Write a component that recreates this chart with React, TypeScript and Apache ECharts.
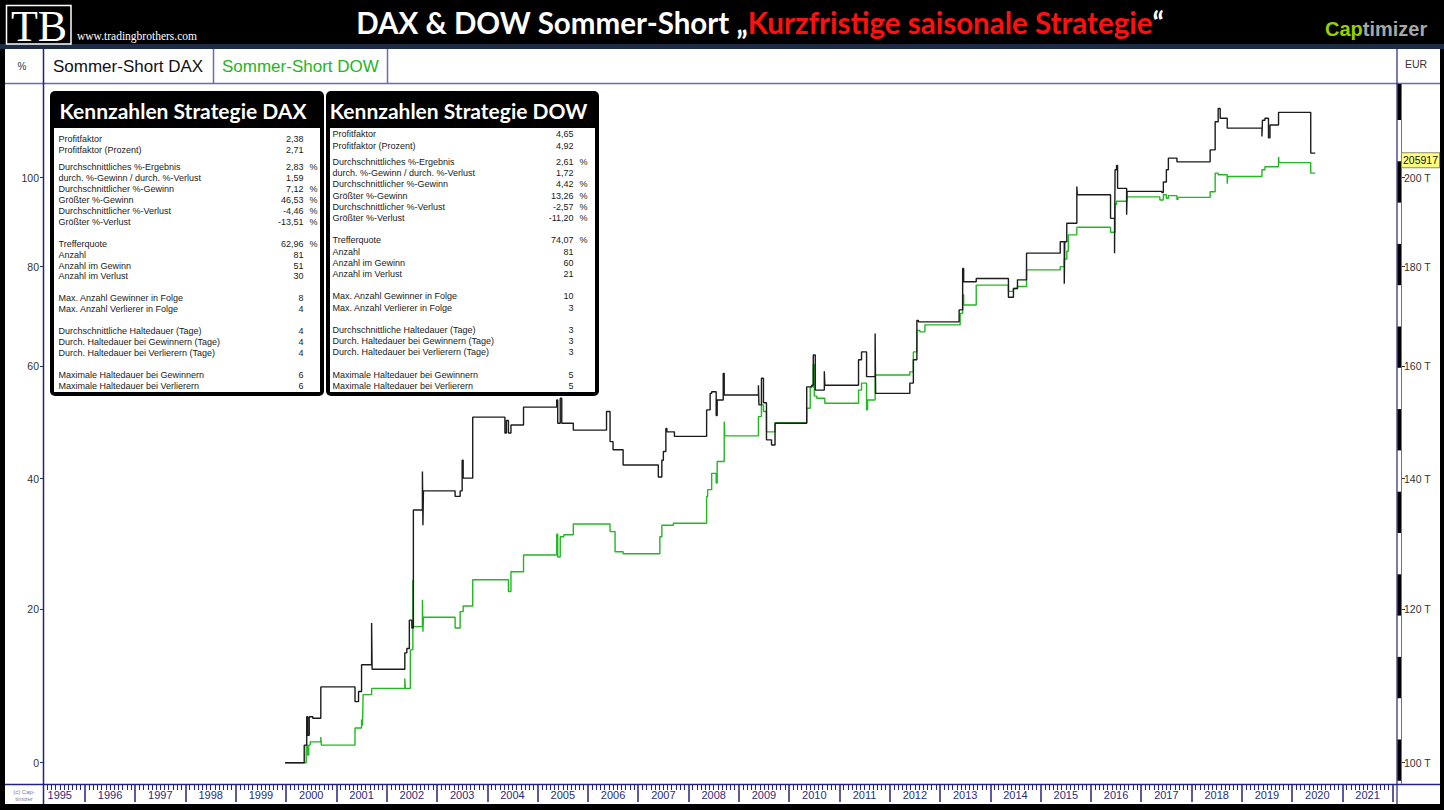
import { useEffect, useRef } from "react";
import * as echarts from "echarts";

// ---------- DATA ----------
// DAX strategy equity (thousand EUR), step points (decimal year, new value)
const daxDates = [
  1999.98, 2000.36, 2000.41, 2000.43, 2000.46, 2000.53, 2000.69, 2001.37, 2001.44, 2001.5,
  2001.7, 2001.71, 2002.36, 2002.4, 2002.45, 2002.5, 2002.53, 2002.71, 2002.72, 2002.73,
  2003.36, 2003.46, 2003.5, 2003.52, 2003.71, 2004.35, 2004.38, 2004.42, 2004.47, 2004.72,
  2005.38, 2005.4, 2005.45, 2005.48, 2005.71, 2006.37, 2006.44, 2006.5, 2006.7, 2007.4,
  2007.47, 2007.5, 2007.55, 2007.57, 2007.72, 2008.36, 2008.43, 2008.46, 2008.55, 2008.57,
  2008.69, 2008.71, 2009.39, 2009.4, 2009.45, 2009.49, 2009.55, 2009.65, 2009.72, 2010.35,
  2010.45, 2010.48, 2010.52, 2010.7, 2010.71, 2011.38, 2011.44, 2011.54, 2011.71, 2011.72,
  2012.4, 2012.47, 2012.54, 2012.57, 2013.38, 2013.45, 2013.47, 2013.72, 2014.36, 2014.46,
  2014.54, 2014.72, 2015.39, 2015.47, 2015.48, 2015.52, 2015.72, 2015.73, 2016.39, 2016.47,
  2016.48, 2016.51, 2016.53, 2016.71, 2016.72, 2017.41, 2017.44, 2017.5, 2017.54, 2017.71,
  2018.37, 2018.47, 2018.53, 2018.57, 2018.71, 2019.4, 2019.41, 2019.46, 2019.53, 2019.56,
  2019.73, 2020.37, 2020.46,
];
const daxValues = [
  100.0, 102.1, 105.6, 103.3, 105.6, 105.4, 109.4, 107.5, 108.8, 112.3,
  118.0, 111.7, 113.9, 114.5, 118.4, 117.3, 134.9, 141.2, 132.5, 138.0,
  137.1, 138.0, 143.1, 140.1, 150.6, 147.8, 150.0, 147.8, 149.2, 152.4,
  153.7, 149.5, 154.0, 149.5, 148.3, 151.6, 146.3, 144.9, 142.3, 140.3,
  143.1, 144.6, 148.6, 148.0, 147.2, 151.9, 154.9, 155.2, 150.9, 153.7,
  158.6, 154.6, 156.4, 152.8, 157.7, 153.2, 146.6, 145.7, 149.5, 156.1,
  156.4, 162.1, 155.5, 159.0, 156.4, 161.2, 162.7, 158.0, 166.3, 154.9,
  156.8, 161.2, 168.9, 168.6, 171.0, 179.6, 176.8, 177.5, 173.6, 175.4,
  177.2, 182.9, 185.4, 176.4, 185.4, 189.5, 197.9, 196.0, 190.6, 182.9,
  201.9, 202.9, 197.5, 191.4, 196.8, 196.5, 199.0, 201.9, 204.7, 203.8,
  206.7, 213.7, 217.1, 214.6, 212.1, 210.0, 214.1, 214.6, 209.7, 212.9,
  216.1, 205.917, 205.917,
];
// DOW strategy equity (thousand EUR)
const dowDates = [
  1999.98, 2000.4, 2000.43, 2000.45, 2000.48, 2000.69, 2000.7, 2001.37, 2001.5, 2001.52,
  2001.53, 2001.7, 2002.36, 2002.37, 2002.47, 2002.52, 2002.53, 2002.71, 2002.72, 2002.73,
  2003.36, 2003.46, 2003.52, 2003.71, 2004.42, 2004.47, 2004.72, 2005.38, 2005.4, 2005.45,
  2005.52, 2005.71, 2006.44, 2006.54, 2006.7, 2007.43, 2007.47, 2007.7, 2008.36, 2008.38,
  2008.46, 2008.55, 2008.57, 2008.71, 2008.72, 2009.39, 2009.45, 2009.49, 2009.55, 2009.72,
  2010.35, 2010.42, 2010.48, 2010.5, 2010.55, 2010.71, 2011.38, 2011.44, 2011.54, 2011.56,
  2011.71, 2012.4, 2012.47, 2012.54, 2012.6, 2012.7, 2013.4, 2013.45, 2013.47, 2013.72,
  2014.36, 2014.46, 2014.54, 2014.72, 2015.39, 2015.47, 2015.52, 2015.55, 2015.72, 2016.39,
  2016.48, 2016.49, 2016.51, 2016.71, 2017.37, 2017.44, 2017.5, 2017.54, 2017.71, 2017.73,
  2018.37, 2018.47, 2018.53, 2018.71, 2018.72, 2019.4, 2019.46, 2019.73, 2019.74, 2020.37,
  2020.46,
];
const dowValues = [
  100.0, 102.1, 100.9, 102.1, 102.5, 103.1, 102.1, 104.2, 105.2, 104.5,
  108.4, 109.2, 110.5, 109.2, 114.3, 124.2, 117.5, 121.3, 116.8, 118.8,
  117.3, 119.6, 120.4, 124.2, 122.5, 125.4, 127.9, 131.1, 127.6, 130.7,
  131.0, 132.7, 131.5, 128.4, 128.1, 130.7, 132.5, 132.8, 137.1, 138.2,
  140.9, 139.3, 142.9, 149.8, 147.3, 150.7, 152.8, 151.6, 148.0, 149.6,
  152.2, 156.1, 160.3, 154.4, 154.0, 153.1, 155.5, 156.8, 151.9, 153.7,
  158.3, 158.9, 162.7, 166.9, 166.6, 168.0, 170.3, 174.1, 172.0, 176.1,
  174.8, 175.4, 175.8, 179.3, 180.0, 181.6, 183.3, 186.9, 188.6, 187.5,
  194.0, 193.8, 194.5, 195.5, 194.8, 196.0, 195.2, 195.8, 194.9, 195.4,
  196.7, 201.1, 200.7, 198.6, 200.3, 201.9, 202.6, 205.0, 203.6, 201.1,
  201.1,
];

const pctTicks = [0, 20, 40, 60, 80, 100];
const eurTicks = [100, 120, 140, 160, 180, 200];
const years = [
  1995, 1996, 1997, 1998, 1999, 2000, 2001, 2002, 2003, 2004, 2005, 2006, 2007, 2008,
  2009, 2010, 2011, 2012, 2013, 2014, 2015, 2016, 2017, 2018, 2019, 2020, 2021,
];

const seriesNames = ["Sommer-Short DAX", "Sommer-Short DOW"];
const titleWhite = "DAX & DOW Sommer-Short „";
const titleRed = "Kurzfristige saisonale Strategie";
const titleEnd = "“";

type Row = [string, string, string];
const daxStats: Row[][] = [
  [["Profitfaktor", "2,38", ""], ["Profitfaktor (Prozent)", "2,71", ""]],
  [
    ["Durchschnittliches %-Ergebnis", "2,83", "%"],
    ["durch. %-Gewinn / durch. %-Verlust", "1,59", ""],
    ["Durchschnittlicher %-Gewinn", "7,12", "%"],
    ["Größter %-Gewinn", "46,53", "%"],
    ["Durchschnittlicher %-Verlust", "-4,46", "%"],
    ["Größter %-Verlust", "-13,51", "%"],
  ],
  [
    ["Trefferquote", "62,96", "%"],
    ["Anzahl", "81", ""],
    ["Anzahl im Gewinn", "51", ""],
    ["Anzahl im Verlust", "30", ""],
  ],
  [["Max. Anzahl Gewinner in Folge", "8", ""], ["Max. Anzahl Verlierer in Folge", "4", ""]],
  [
    ["Durchschnittliche Haltedauer (Tage)", "4", ""],
    ["Durch. Haltedauer bei Gewinnern (Tage)", "4", ""],
    ["Durch. Haltedauer bei Verlierern (Tage)", "4", ""],
  ],
  [["Maximale Haltedauer bei Gewinnern", "6", ""], ["Maximale Haltedauer bei Verlierern", "6", ""]],
];
const dowStats: Row[][] = [
  [["Profitfaktor", "4,65", ""], ["Profitfaktor (Prozent)", "4,92", ""]],
  [
    ["Durchschnittliches %-Ergebnis", "2,61", "%"],
    ["durch. %-Gewinn / durch. %-Verlust", "1,72", ""],
    ["Durchschnittlicher %-Gewinn", "4,42", "%"],
    ["Größter %-Gewinn", "13,26", "%"],
    ["Durchschnittlicher %-Verlust", "-2,57", "%"],
    ["Größter %-Verlust", "-11,20", "%"],
  ],
  [
    ["Trefferquote", "74,07", "%"],
    ["Anzahl", "81", ""],
    ["Anzahl im Gewinn", "60", ""],
    ["Anzahl im Verlust", "21", ""],
  ],
  [["Max. Anzahl Gewinner in Folge", "10", ""], ["Max. Anzahl Verlierer in Folge", "3", ""]],
  [
    ["Durchschnittliche Haltedauer (Tage)", "3", ""],
    ["Durch. Haltedauer bei Gewinnern (Tage)", "3", ""],
    ["Durch. Haltedauer bei Verlierern (Tage)", "3", ""],
  ],
  [["Maximale Haltedauer bei Gewinnern", "5", ""], ["Maximale Haltedauer bei Verlierern", "5", ""]],
];

// ---------- LAYOUT ----------
const X_MIN = 1995.167;
const X_MAX = 2022.085;
const Y_MIN = 1.98904; // log10 of 97.5 T
const Y_MAX = 2.34977; // log10 of 223.7 T
const SANS = "'Liberation Sans', Arial, sans-serif";
const NAVY = "#23237f";
const LAV = "#6a6ab8";

function statBox(
  title: string,
  groups: Row[][],
  o: { x0: number; x1: number; labelX: number; valueX: number; pctX: number; top: number; lh: number; gap0: number; gap: number }
) {
  const els: any[] = [];
  els.push({ type: "rect", z: 20, shape: { x: o.x0, y: 91, width: o.x1 - o.x0, height: 305, r: 5 }, style: { fill: "#000" } });
  els.push({ type: "rect", z: 21, shape: { x: o.x0 + 4, y: 128, width: o.x1 - o.x0 - 8, height: 264 }, style: { fill: "#fff" } });
  els.push({
    type: "text", z: 22,
    style: {
      text: title, x: (o.x0 + o.x1) / 2 - 4, y: 110, fill: "#fff", align: "center", verticalAlign: "middle",
      textAlign: "center", textVerticalAlign: "middle",
      font: "bold 21px Lato, 'Open Sans', sans-serif",
    },
  });
  let y = o.top;
  groups.forEach((g, gi) => {
    if (gi > 0) y += gi === 1 ? o.gap0 : o.gap;
    g.forEach((r) => {
      const base = { fill: "#1a1a1a", verticalAlign: "middle", textVerticalAlign: "middle", font: `9px ${SANS}` };
      els.push({ type: "text", z: 22, style: { ...base, text: r[0], x: o.labelX, y, align: "left", textAlign: "left" } });
      els.push({ type: "text", z: 22, style: { ...base, text: r[1], x: o.valueX, y, align: "right", textAlign: "right" } });
      if (r[2]) els.push({ type: "text", z: 22, style: { ...base, text: r[2], x: o.pctX, y, align: "left", textAlign: "left" } });
      y += o.lh;
    });
  });
  return els;
}

// alternating black/white scale strip beside the right axis
function scaleStrip() {
  const els: any[] = [];
  const x = 1397.5, w = 4, top = 84, bottom = 784, seg = 41.3, first = 120;
  els.push({ type: "rect", z: 6, shape: { x, y: top, width: w, height: first - top }, style: { fill: "#000" } });
  for (let y0 = first + seg; y0 < bottom; y0 += 2 * seg) {
    const y1 = Math.min(y0 + seg, bottom);
    els.push({ type: "rect", z: 6, shape: { x, y: y0, width: w, height: y1 - y0 }, style: { fill: "#000" } });
  }
  return els;
}

export default function App() {
  const ref = useRef<HTMLDivElement>(null);
  useEffect(() => {
    if (!ref.current) return;
    const chart = echarts.init(ref.current, undefined, { renderer: "svg" });

    const yearBounds = years.slice(1).concat([2022]);
    const yearMids = years.map((y) => y + 0.5);
    const monthTicks: number[] = [];
    years.forEach((y) => {
      for (let m = 1; m < 12; m++) {
        const v = y + m / 12;
        if (v > X_MIN && v < X_MAX) monthTicks.push(v);
      }
    });
    const pctLog = pctTicks.map((p) => Math.log10(100 + p));
    const eurLog = eurTicks.map((e) => Math.log10(e));
    const lastDax = daxValues[daxValues.length - 1];

    const graphic: any[] = [
      // black frame
      { type: "rect", z: 30, shape: { x: 0, y: 0, width: 1444, height: 44 }, style: { fill: "#000" } },
      { type: "rect", z: 30, shape: { x: 0, y: 44, width: 1444, height: 5 }, style: { fill: "#1d2b44" } },
      { type: "rect", z: 30, shape: { x: 0, y: 49, width: 5, height: 761 }, style: { fill: "#000" } },
      { type: "rect", z: 30, shape: { x: 1440, y: 49, width: 4, height: 761 }, style: { fill: "#000" } },
      { type: "rect", z: 30, shape: { x: 0, y: 804, width: 1444, height: 6 }, style: { fill: "#000" } },
      // TB logo
      { type: "rect", z: 31, shape: { x: 6.5, y: 5.5, width: 64.5, height: 38.5 }, style: { fill: "none", stroke: "#fff", lineWidth: 1.5 } },
      {
        type: "text", z: 31,
        style: { text: "TB", x: 39, y: 26, fill: "#fff", align: "center", verticalAlign: "middle", textAlign: "center", textVerticalAlign: "middle", font: "44px 'Liberation Serif', 'DejaVu Serif', serif" },
      },
      {
        type: "text", z: 31,
        style: { text: "www.tradingbrothers.com", x: 77, y: 36, fill: "#fff", align: "left", verticalAlign: "middle", textAlign: "left", textVerticalAlign: "middle", font: "11.5px 'Liberation Serif', serif" },
      },
      // title
      {
        type: "text", z: 31,
        style: {
          text: `{w|${titleWhite}}{r|${titleRed}}{w|${titleEnd}}`,
          x: 760, y: 22, align: "center", verticalAlign: "middle", textAlign: "center", textVerticalAlign: "middle",
          rich: {
            w: { fill: "#fff", fontSize: 29.5, fontWeight: "bold", fontFamily: "Lato, 'Open Sans', sans-serif" },
            r: { fill: "#ff1010", fontSize: 29.5, fontWeight: "bold", fontFamily: "Lato, 'Open Sans', sans-serif" },
          },
        },
      },
      {
        type: "text", z: 31,
        style: {
          text: "{c|Cap}{t|timizer}", x: 1325, y: 29, align: "left", verticalAlign: "middle", textAlign: "left", textVerticalAlign: "middle",
          rich: {
            c: { fill: "#9acd00", fontSize: 20, fontWeight: "bold", fontFamily: SANS },
            t: { fill: "#a6a6a6", fontSize: 20, fontWeight: "bold", fontFamily: SANS },
          },
        },
      },
      // legend strip and frame lines
      { type: "line", z: 5, shape: { x1: 5, y1: 83.5, x2: 1440, y2: 83.5 }, style: { stroke: LAV, lineWidth: 1.5 } },
      { type: "line", z: 5, shape: { x1: 5, y1: 784.5, x2: 1440, y2: 784.5 }, style: { stroke: NAVY, lineWidth: 1.5 } },
      { type: "line", z: 5, shape: { x1: 43.5, y1: 49, x2: 43.5, y2: 804 }, style: { stroke: NAVY, lineWidth: 1.5 } },
      { type: "line", z: 5, shape: { x1: 1397, y1: 49, x2: 1397, y2: 804 }, style: { stroke: NAVY, lineWidth: 1.2 } },
      { type: "line", z: 7, shape: { x1: 1401.5, y1: 84, x2: 1401.5, y2: 784 }, style: { stroke: LAV, lineWidth: 1 } },
      ...scaleStrip(),
      { type: "line", z: 5, shape: { x1: 213.5, y1: 49, x2: 213.5, y2: 83 }, style: { stroke: LAV, lineWidth: 1.5 } },
      { type: "line", z: 5, shape: { x1: 387.5, y1: 49, x2: 387.5, y2: 83 }, style: { stroke: LAV, lineWidth: 1.5 } },
      {
        type: "text", z: 5,
        style: { text: "%", x: 22, y: 66, fill: "#333", align: "center", verticalAlign: "middle", textAlign: "center", textVerticalAlign: "middle", font: `10px ${SANS}` },
      },
      {
        type: "text", z: 5,
        style: { text: seriesNames[0], x: 53, y: 66, fill: "#111", align: "left", verticalAlign: "middle", textAlign: "left", textVerticalAlign: "middle", font: `17px ${SANS}` },
      },
      {
        type: "text", z: 5,
        style: { text: seriesNames[1], x: 222, y: 66, fill: "#1fb41f", align: "left", verticalAlign: "middle", textAlign: "left", textVerticalAlign: "middle", font: `17px ${SANS}` },
      },
      {
        type: "text", z: 5,
        style: { text: "EUR", x: 1405, y: 64, fill: "#333", align: "left", verticalAlign: "middle", textAlign: "left", textVerticalAlign: "middle", font: `10.5px ${SANS}` },
      },
      {
        type: "text", z: 5,
        style: { text: "(c) Cap-\ntimizer", x: 24, y: 795, fill: "#7c7ca0", align: "center", verticalAlign: "middle", textAlign: "center", textVerticalAlign: "middle", font: `6px ${SANS}`, lineHeight: 7 },
      },
      ...statBox("Kennzahlen Strategie DAX", daxStats, {
        x0: 50, x1: 324, labelX: 58.5, valueX: 303.5, pctX: 309.5, top: 139, lh: 10.95, gap0: 6, gap: 11,
      }),
      ...statBox("Kennzahlen Strategie DOW", dowStats, {
        x0: 326, x1: 599, labelX: 332.5, valueX: 573.5, pctX: 579.5, top: 134.3, lh: 11.25, gap0: 5, gap: 11,
      }),
    ];

    const option: any = {
      animation: false,
      backgroundColor: "#fff",
      grid: { left: 43, right: 47, top: 83, bottom: 26, containLabel: false },
      xAxis: [
        {
          type: "value", min: X_MIN, max: X_MAX, position: "bottom",
          axisLine: { show: false },
          axisTick: { show: true, customValues: yearBounds, length: 18, lineStyle: { color: NAVY, width: 1.5 } },
          axisLabel: {
            show: true, customValues: yearMids, formatter: (v: number) => String(Math.floor(v)),
            color: "#2a2a80", fontSize: 11, fontFamily: SANS, margin: 5,
          },
          splitLine: { show: false },
        },
        {
          type: "value", min: X_MIN, max: X_MAX, position: "bottom",
          axisLine: { show: false },
          axisTick: { show: true, customValues: monthTicks, length: 6, lineStyle: { color: NAVY, width: 1 } },
          axisLabel: { show: false },
          splitLine: { show: false },
        },
      ],
      yAxis: [
        {
          type: "value", min: Y_MIN, max: Y_MAX, position: "left",
          axisLine: { show: false },
          axisTick: { show: true, customValues: pctLog, length: 3, lineStyle: { color: "#333" } },
          axisLabel: {
            customValues: pctLog, formatter: (v: number) => String(Math.round(Math.pow(10, v) - 100)),
            color: "#333", fontSize: 10.5, fontFamily: SANS, margin: 4,
          },
          splitLine: { show: false },
        },
        {
          type: "value", min: Y_MIN, max: Y_MAX, position: "right", offset: 4,
          axisLine: { show: false },
          axisTick: { show: true, customValues: eurLog, length: 4, lineStyle: { color: "#333" } },
          axisLabel: {
            customValues: eurLog, formatter: (v: number) => `${Math.round(Math.pow(10, v))} T`,
            color: "#333", fontSize: 10.5, fontFamily: SANS, margin: 3,
          },
          splitLine: { show: false },
        },
      ],
      series: [
        {
          name: seriesNames[1], type: "line", step: "end", showSymbol: false, symbol: "none", z: 2,
          xAxisIndex: 0, yAxisIndex: 0,
          lineStyle: { color: "#22b822", width: 1.4 },
          data: dowDates.map((d, i) => [d, Math.log10(dowValues[i])]),
        },
        {
          name: seriesNames[0], type: "line", step: "end", showSymbol: false, symbol: "none", z: 3,
          xAxisIndex: 0, yAxisIndex: 0,
          lineStyle: { color: "#1c1c1c", width: 1.4 },
          data: daxDates.map((d, i) => [d, Math.log10(daxValues[i])]),
          markLine: {
            silent: true, symbol: ["none", "none"], z: 10,
            lineStyle: { color: "rgba(0,0,0,0)", width: 0 },
            emphasis: { disabled: true },
            label: {
              show: true, position: "end", distance: 5,
              formatter: () => String(Math.round(lastDax * 1000)),
              backgroundColor: "#ffff80", borderColor: "#8a8a60", borderWidth: 1,
              padding: [2, 1, 1, 1], color: "#111", fontSize: 10.5, fontFamily: SANS,
            },
            data: [{ yAxis: Math.log10(lastDax) }],
          },
        },
      ],
      graphic,
    };
    chart.setOption(option);
    return () => chart.dispose();
  }, []);
  return (
    <div
      ref={ref}
      style={{ position: "fixed", left: 0, top: 0, width: 1444, height: 810, background: "#fff" }}
    />
  );
}
